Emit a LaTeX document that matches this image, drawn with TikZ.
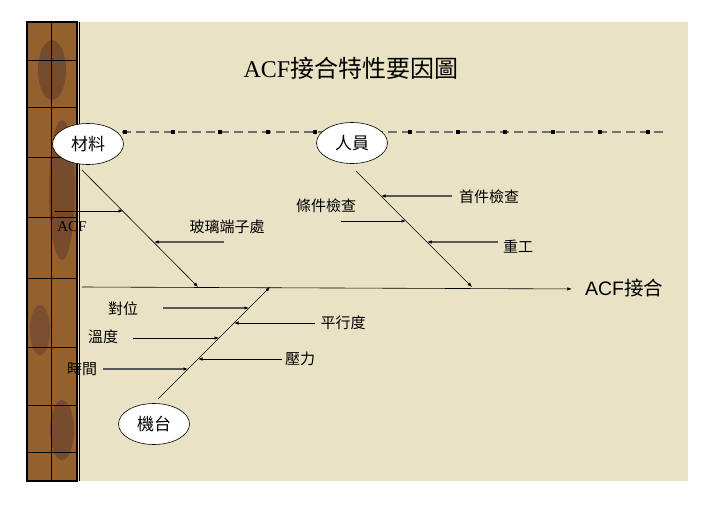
\documentclass[tikz,border=0pt]{standalone}
\usepackage{fontspec}
\setmainfont{Liberation Serif}
\newfontfamily\cjk{Noto Sans CJK TC}
\newfontfamily\arial{Liberation Sans}
\usetikzlibrary{arrows.meta,shapes.geometric}

\definecolor{parchment}{RGB}{233,226,196}
\definecolor{woodbrown}{RGB}{148,96,46}
\definecolor{wooddark}{RGB}{92,58,46}
\definecolor{dashgrey}{RGB}{112,112,112}
\definecolor{armgrey}{RGB}{88,88,88}

\tikzset{
  tip/.style={-{Latex[length=4.5pt,width=3.5pt,black]}},
  bone/.style={tip,black,line width=0.6pt},
  blackarm/.style={tip,black,line width=0.7pt},
  greyarm/.style={tip,armgrey,line width=1.1pt},
  group/.style={ellipse,draw,fill=white,line width=0.6pt,minimum width=71pt,
    minimum height=41pt,inner sep=0pt,font=\cjk\fontsize{17}{19}\selectfont},
  cause/.style={inner sep=0pt,font=\cjk\fontsize{15}{17}\selectfont}
}

\begin{document}
\begin{tikzpicture}[x=1pt,y=-1pt]
    \useasboundingbox (0,0) rectangle (713,504);
    \fill [white] (0,0) rectangle (713,504);
    % background
    \fill [parchment] (77,22) rectangle (688,481);
    \fill [woodbrown] (27,22) rectangle (77,481);
    \fill [wooddark,opacity=0.55] (52,70) ellipse (14 and 30);
    \fill [wooddark,opacity=0.5] (62,190) ellipse (13 and 70);
    \fill [wooddark,opacity=0.45] (40,330) ellipse (10 and 25);
    \fill [wooddark,opacity=0.5] (62,430) ellipse (12 and 30);
    \foreach \y in {60,107,157,217,278,347,405,452}
        \draw [black,line width=0.6pt] (27,\y) -- (77,\y);
    \draw [black,line width=0.6pt] (51,22) -- (51,481);
    \draw [black,line width=2pt] (27,22) rectangle (77,481);
    \draw [black,line width=0.6pt] (79,22) -- (79,481);

    % title
    \node (title) at (351,68) {\fontsize{24}{27}\selectfont ACF\cjk 接合特性要因圖};

    % dotted guide line
    \coordinate (guideL) at (122,132);
    \coordinate (guideR) at (665,132);
    \draw [dashgrey,line width=1.6pt,dash pattern=on 9pt off 5pt] (guideL) -- (guideR);
    \foreach \i in {0,...,11}
        \fill [black] (123+47.5*\i,130) rectangle +(4,4);

    % groups
    \node [group] (mat) at (88,144) {材料};
    \node [group] (ren) at (352,143) {人員};
    \node [group] (mach) at (154,424) {機台};

    % spine
    \coordinate (spineL) at (82,287);
    \node [inner sep=0pt,font=\fontsize{19.5}{22}\selectfont] (effect) at (624,288) {\arial ACF\cjk 接合};
    \draw [bone] (spineL) -- ([yshift=-1pt]effect.west) [shorten >=13pt];

    % bones
    \coordinate (matfoot) at (82,170);
    \coordinate (matjoin) at (198,287);
    \coordinate (renfoot) at (356,171);
    \coordinate (renjoin) at (472,287);
    \coordinate (machfoot) at (158,399);
    \coordinate (machjoin) at (270,287);
    \draw [bone] (matfoot) -- (matjoin);
    \draw [bone] (renfoot) -- (renjoin);
    \draw [bone] (machfoot) -- (machjoin);

    % causes of materials
    \node [inner sep=0pt,font=\fontsize{15}{16}\selectfont] (acf) at (72,227) {ACF};
    \coordinate (acfs) at (55,211);
    \coordinate (acfe) at (123,211);
    \draw [blackarm] (acfs) -- (acfe);
    \node [cause] (glass) at (227,227) {玻璃端子處};
    \coordinate (glasss) at (224,242);
    \coordinate (glasse) at (154,242);
    \draw [greyarm] (glasss) -- (glasse);

    % causes of people
    \node [cause] (first) at (489,197) {首件檢查};
    \coordinate (firsts) at (452,196);
    \coordinate (firste) at (381,196);
    \draw [greyarm] (firsts) -- (firste);
    \node [cause] (cond) at (326,206) {條件檢查};
    \coordinate (conds) at (341,221);
    \coordinate (conde) at (406,221);
    \draw [blackarm] (conds) -- (conde);
    \node [cause] (rework) at (518,247) {重工};
    \coordinate (reworks) at (498,242);
    \coordinate (reworke) at (427,242);
    \draw [greyarm] (reworks) -- (reworke);

    % causes of machine
    \node [cause] (align) at (123,309) {對位};
    \coordinate (aligns) at (163,308);
    \coordinate (aligne) at (249,308);
    \draw [greyarm] (aligns) -- (aligne);
    \node [cause] (para) at (343,323) {平行度};
    \coordinate (paras) at (315,323);
    \coordinate (parae) at (234,323);
    \draw [blackarm] (paras) -- (parae);
    \node [cause] (temp) at (103,337) {溫度};
    \coordinate (temps) at (133,338);
    \coordinate (tempe) at (219,338);
    \draw [blackarm] (temps) -- (tempe);
    \node [cause] (press) at (300,359) {壓力};
    \coordinate (presss) at (282,359);
    \coordinate (presse) at (198,359);
    \draw [blackarm] (presss) -- (presse);
    \node [cause] (time) at (82,369) {時間};
    \coordinate (times) at (103,369);
    \coordinate (timee) at (188,369);
    \draw [greyarm] (times) -- (timee);
\end{tikzpicture}
\end{document}
